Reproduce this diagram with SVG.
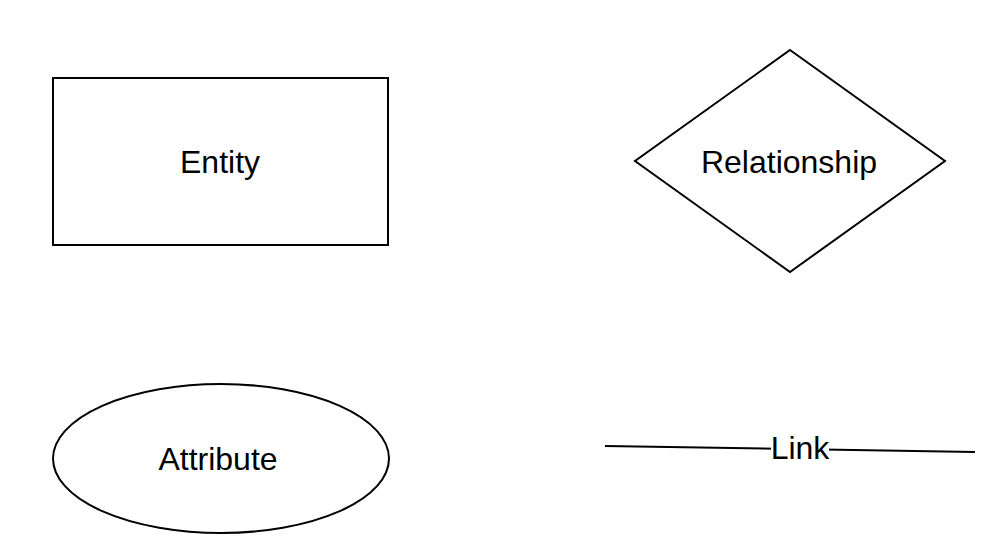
<svg xmlns="http://www.w3.org/2000/svg" width="1005" height="560" viewBox="0 0 1005 560">
<style>
.shape{fill:#fff;stroke:#000;stroke-width:2}
.lbl{font-family:"Liberation Sans",Arial,sans-serif;font-size:32px;fill:#000;text-anchor:middle}
.edge{stroke:#000;stroke-width:2;fill:none}
</style>
<rect width="1005" height="560" fill="#fff"/>
<g id="entity">
<rect class="shape" x="53" y="78" width="335" height="167"/>
<text class="lbl" x="220" y="173">Entity</text>
</g>
<g id="relationship">
<polygon class="shape" points="790,50 945,161 790,272 635,161"/>
<text class="lbl" x="789" y="173">Relationship</text>
</g>
<g id="attribute">
<ellipse class="shape" cx="221" cy="458.5" rx="168" ry="74.5"/>
<text class="lbl" x="218" y="470">Attribute</text>
</g>
<g id="connectors">
<g id="link">
<line class="edge" x1="605" y1="446" x2="975" y2="452"/>
<rect x="771" y="432" width="58" height="32" fill="#fff"/>
<text class="lbl" x="800" y="459">Link</text>
</g>
</g>
</svg>
